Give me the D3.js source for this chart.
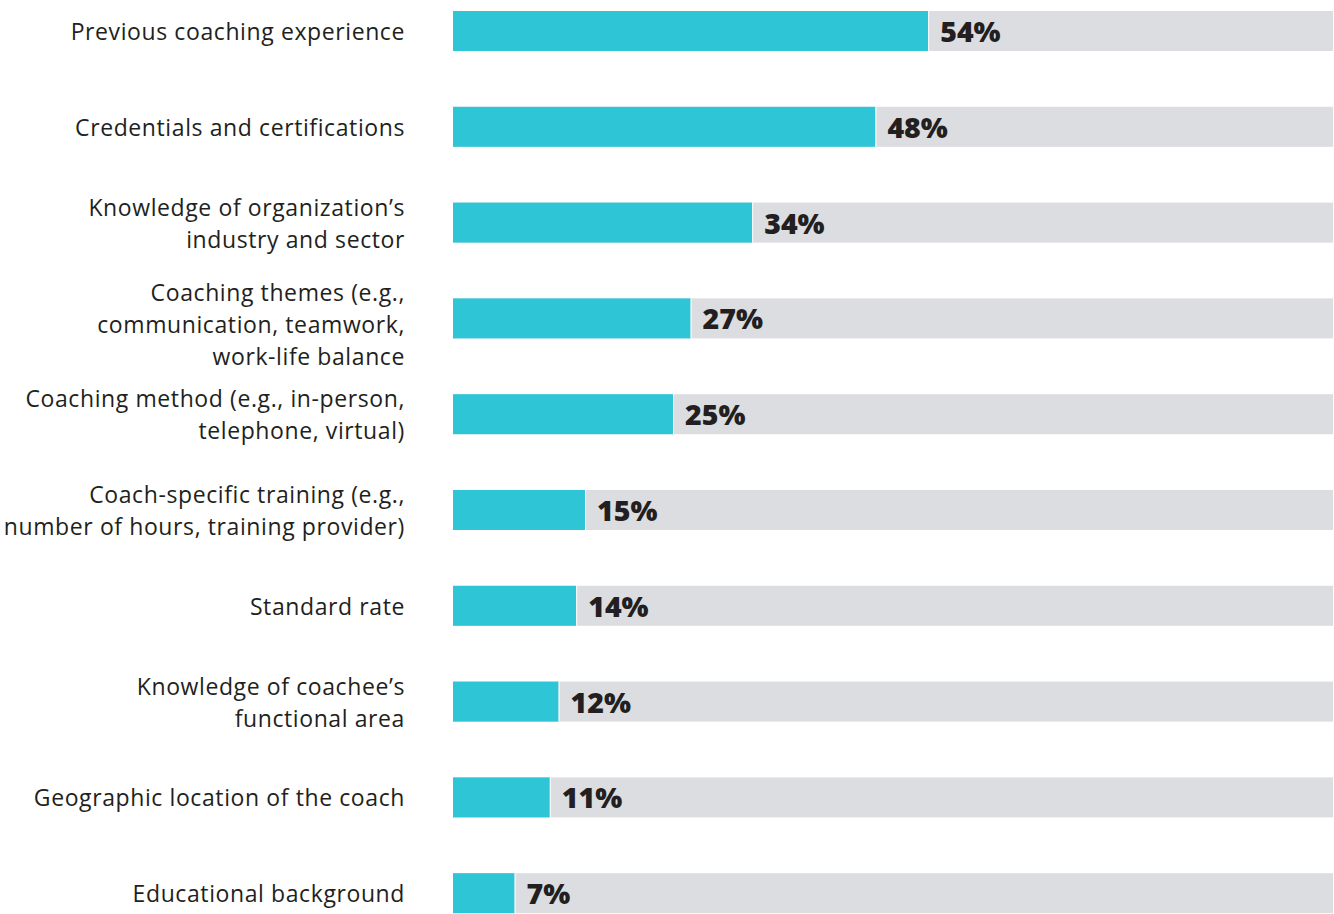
<!DOCTYPE html>
<html>
<head>
<meta charset="utf-8">
<script src="https://cdn.jsdelivr.net/npm/d3@7"></script>
<style>
  body { margin: 0; background: #fff; }
  svg { display: block; }
</style>
</head>
<body>
<div class="chart"></div>
<script>
// categories, one entry per bar (lines split where the label wraps)
var categories = [
  ['Previous coaching experience'],
  ['Credentials and certifications'],
  ['Knowledge of organization\u2019s', 'industry and sector'],
  ['Coaching themes (e.g.,', 'communication, teamwork,', 'work-life balance'],
  ['Coaching method (e.g., in-person,', 'telephone, virtual)'],
  ['Coach-specific training (e.g.,', 'number of hours, training provider)'],
  ['Standard rate'],
  ['Knowledge of coachee\u2019s', 'functional area'],
  ['Geographic location of the coach'],
  ['Educational background']
];
var values = [54, 48, 34, 27, 25, 15, 14, 12, 11, 7];

var width = 1334;
var height = 914;

var svg = d3.select('.chart').append('svg')
  .attr('width', width)
  .attr('height', height);

var keys = categories.map(function(c, i) { return i; });

var step = 95.8;
var pad = 1 - 40 / step;
var top0 = 11 - step * pad / 2;

var y = d3.scaleBand()
  .domain(keys)
  .range([top0, top0 + step * keys.length])
  .paddingInner(pad)
  .paddingOuter(pad / 2);

var x = d3.scaleLinear()
  .domain([0, 100])
  .range([453, 1333]);

var rows = svg.selectAll('g.row')
  .data(keys)
  .enter().append('g')
  .attr('class', 'row');

// grey track = full 100%
rows.append('rect')
  .attr('x', x(0))
  .attr('y', function(d) { return y(d); })
  .attr('width', x(100) - x(0))
  .attr('height', y.bandwidth())
  .attr('fill', '#dcdde1');

rows.append('rect')
  .attr('x', x(0))
  .attr('y', function(d) { return y(d); })
  .attr('width', function(d) { return x(values[d]) - x(0); })
  .attr('height', y.bandwidth())
  .attr('fill', '#2ec5d6');

// thin white seam at the bar end
rows.append('line')
  .attr('x1', function(d) { return x(values[d]) + 0.5; })
  .attr('x2', function(d) { return x(values[d]) + 0.5; })
  .attr('y1', function(d) { return y(d); })
  .attr('y2', function(d) { return y(d) + y.bandwidth(); })
  .attr('stroke', '#fff')
  .attr('stroke-width', 1);

rows.append('text')
  .attr('x', function(d) { return x(values[d]) + 12; })
  .attr('y', function(d) { return y(d) + y.bandwidth() / 2 + 1; })
  .attr('dy', '0.35em')
  .attr('font-family', '"Open Sans", sans-serif')
  .attr('font-weight', 800)
  .attr('font-size', 28.5)
  .attr('fill', '#231f20')
  .text(function(d) { return values[d] + '%'; });

var lineH = 32;
rows.append('text')
  .attr('text-anchor', 'end')
  .attr('font-family', '"Open Sans", sans-serif')
  .attr('font-size', 23)
  .attr('letter-spacing', 0.6)
  .attr('fill', '#231f20')
  .each(function(d) {
    var lines = categories[d];
    var cy = y(d) + y.bandwidth() / 2 + 1 + (lines.length > 2 ? 6 : 0);
    var start = cy - (lines.length - 1) * lineH / 2;
    d3.select(this).selectAll('tspan')
      .data(lines)
      .enter().append('tspan')
      .attr('x', 405)
      .attr('y', function(l, i) { return start + i * lineH; })
      .attr('dy', '0.35em')
      .text(function(l) { return l; });
  });
</script>
</body>
</html>
